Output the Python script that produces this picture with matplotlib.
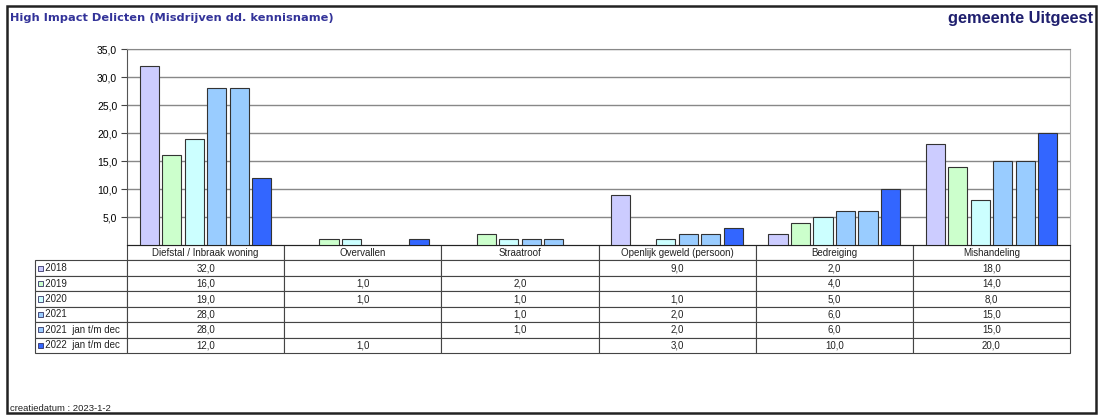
import numpy as np
import matplotlib
matplotlib.use('Agg')
import matplotlib.pyplot as plt
from matplotlib.patches import Rectangle

plt.rcParams['font.family'] = ['Liberation Sans', 'DejaVu Sans']

# data
categories = ['Diefstal / Inbraak woning', 'Overvallen', 'Straatroof',
              'Openlijk geweld (persoon)', 'Bedreiging', 'Mishandeling']
series_names = ['2018', '2019', '2020', '2021', '2021  jan t/m dec', '2022  jan t/m dec']
v2018 = [32.0, np.nan, np.nan, 9.0, 2.0, 18.0]
v2019 = [16.0, 1.0, 2.0, np.nan, 4.0, 14.0]
v2020 = [19.0, 1.0, 1.0, 1.0, 5.0, 8.0]
v2021 = [28.0, np.nan, 1.0, 2.0, 6.0, 15.0]
v2021_dec = [28.0, np.nan, 1.0, 2.0, 6.0, 15.0]
v2022_dec = [12.0, 1.0, np.nan, 3.0, 10.0, 20.0]
series = [v2018, v2019, v2020, v2021, v2021_dec, v2022_dec]
colors = ['#CCCCFF', '#CCFFCC', '#CCFFFF', '#99CCFF', '#99CCFF', '#3366FF']
yticks = [5, 10, 15, 20, 25, 30, 35]

W, H = 1099, 415
fig = plt.figure(figsize=(W / 100, H / 100), dpi=100)

# outer frame
fig.add_artist(Rectangle((7 / W, 1 - 413 / H), (1096 - 7) / W, (413 - 6) / H,
                         transform=fig.transFigure, fill=False, lw=1.8, ec='#222222'))

fig.text(10 / W, 1 - 18 / H, 'High Impact Delicten (Misdrijven dd. kennisname)',
         fontsize=8.2, fontweight='bold', color='#333399', family=['DejaVu Sans'],
         va='center', ha='left')
fig.text(1093 / W, 1 - 18 / H, 'gemeente Uitgeest', fontsize=11.8, fontweight='bold',
         color='#1F1F6E', va='center', ha='right')
fig.text(10 / W, 1 - 408 / H, 'creatiedatum : 2023-1-2', fontsize=6.8, color='#222222',
         va='center', ha='left')

ax_l, ax_r, ax_t, ax_b = 127, 1070, 49, 245
ax = fig.add_axes([ax_l / W, 1 - ax_b / H, (ax_r - ax_l) / W, (ax_b - ax_t) / H])

x = np.arange(len(categories))
step = 0.143
width = 0.122
for i, (vals, c) in enumerate(zip(series, colors)):
    ax.bar(x + (i - 2.5) * step, vals, width=width, color=c, edgecolor='#333333',
           linewidth=0.8, zorder=3)

ax.set_xlim(-0.5, len(categories) - 0.5)
ax.set_ylim(0, 35)
ax.set_yticks(yticks)
ax.set_yticklabels([f'{t:.1f}'.replace('.', ',') for t in yticks], fontsize=7.5)
ax.set_xticks([])
ax.yaxis.grid(True, color='#888888', lw=1.0, zorder=0)
ax.tick_params(axis='y', length=4, width=0.8, color='#444444', pad=3)
ax.spines['left'].set_color('#555555')
ax.spines['right'].set_color('#aaaaaa')
ax.spines['top'].set_color('#888888')
ax.spines['bottom'].set_color('#222222')

# data table (bbox covers only the value cells, row labels hang to the left)
cell_text = [['' if np.isnan(v) else f'{v:.1f}'.replace('.', ',') for v in vals]
             for vals in series]
tbl_h = (353 - ax_b) / (ax_b - ax_t)
tbl = ax.table(cellText=cell_text, rowLabels=['   ' + s for s in series_names],
               colLabels=categories, cellLoc='center', rowLoc='left',
               bbox=[0, -tbl_h, 1, tbl_h])
tbl.auto_set_font_size(False)
tbl.set_fontsize(7)
tbl._autoColumns = []
col_w = 1.0 / len(categories)
label_w = (ax_l - 35) / (ax_r - ax_l)
for (r, c), cell in tbl.get_celld().items():
    cell.set_edgecolor('#444444')
    cell.set_linewidth(0.8)
    cell.get_text().set_color('#222222')
    if c == -1:
        cell.set_width(label_w)
        cell.PAD = 0.02
    else:
        cell.set_width(col_w)

# small colour keys in the row labels
nrows = len(series) + 1
row_h = tbl_h / nrows
for i, c in enumerate(colors):
    yc = -row_h * (i + 1.5)
    ax.add_patch(Rectangle((-label_w + 0.003, yc - 0.013), 0.006, 0.026,
                           transform=ax.transAxes, clip_on=False,
                           fc=c, ec='#333366', lw=0.6, zorder=5))

fig.savefig('out.png', dpi=100)
